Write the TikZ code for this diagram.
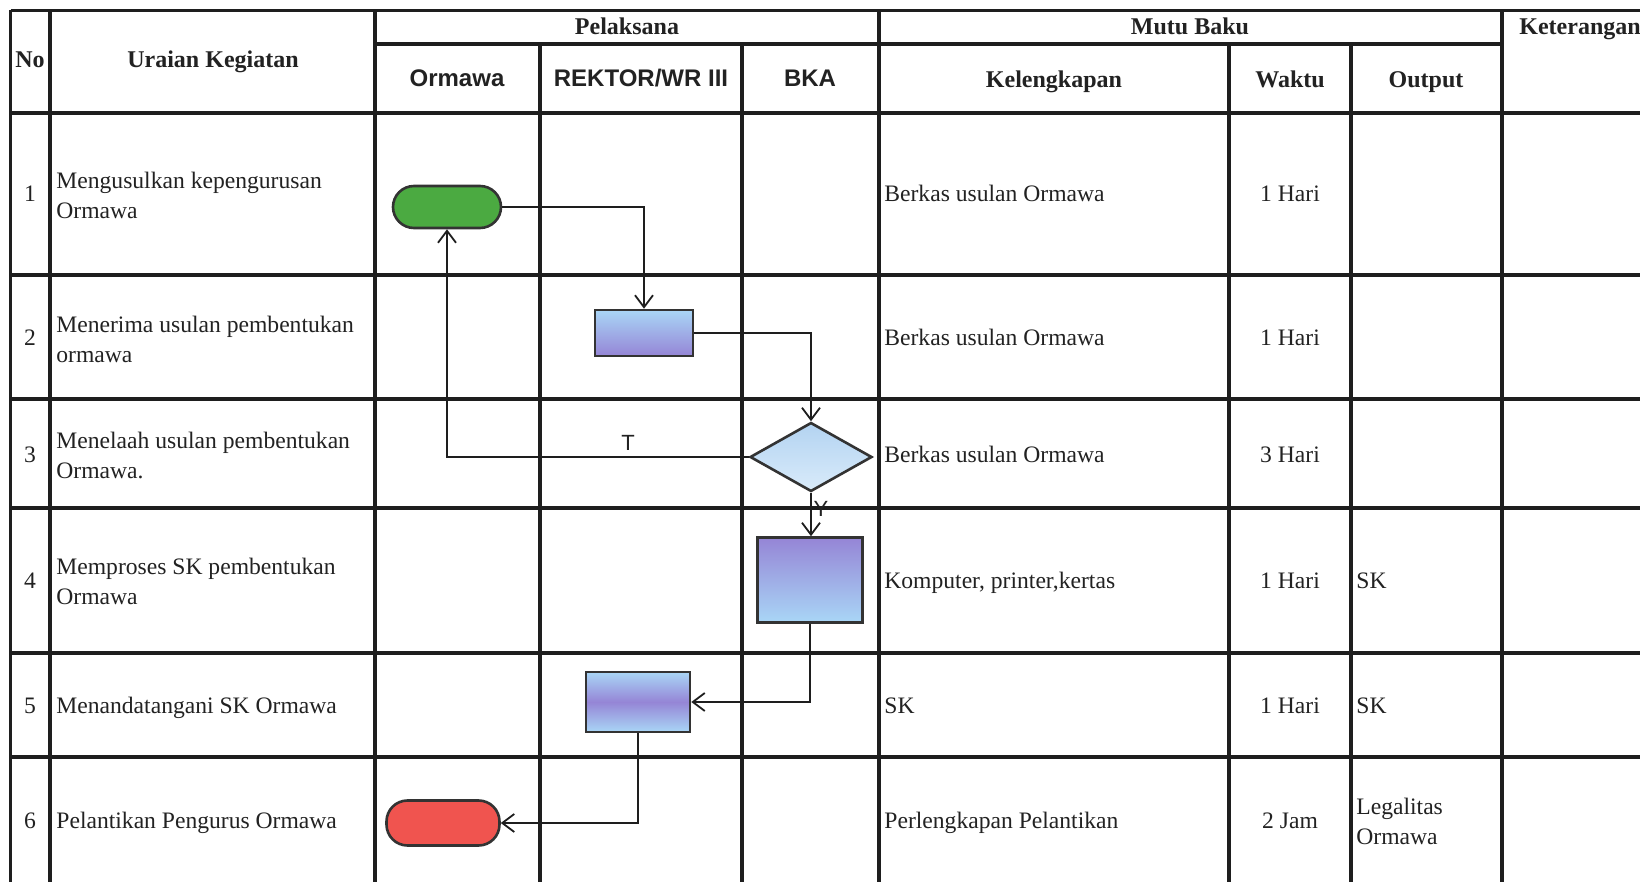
\documentclass[tikz,border=0pt]{standalone}
\usepackage{fontspec}
\setmainfont{Liberation Serif}
\newfontfamily\hsans{Liberation Sans}
\usetikzlibrary{shapes.geometric,arrows.meta}
\definecolor{ln}{HTML}{1E1E1E}
\definecolor{ink}{HTML}{222222}
\definecolor{bd}{HTML}{333333}
\definecolor{lblue}{HTML}{A9D6F6}
\definecolor{lpurp}{HTML}{9585D6}
\definecolor{dtop}{HTML}{B3D3F1}
\definecolor{dbot}{HTML}{D9EBFA}
\definecolor{gfill}{HTML}{4BAA41}
\definecolor{rfill}{HTML}{F0544F}
\begin{document}
\begin{tikzpicture}[x=0.5pt,y=-0.5pt,
  grid/.style={draw=ln, line width=1.8pt},
  txt/.style={font=\fontsize{11.8}{15}\selectfont, text=ink, inner sep=0pt},
  tb/.style={txt, anchor=base},
  lt/.style={txt, anchor=west, align=left},
  lb/.style={txt, anchor=base west},
  hd/.style={font=\fontsize{12}{15}\selectfont\bfseries, text=ink, inner sep=0pt, anchor=base},
  hs/.style={font=\hsans\fontsize{12}{15}\selectfont\bfseries, text=ink, inner sep=0pt, anchor=base},
  lbl/.style={font=\hsans\fontsize{11}{13}\selectfont, text=ink, inner sep=0pt},
  conn/.style={draw=ln, line width=0.9pt, -{Straight Barb[length=6pt,width=9pt,line width=0.9pt]}},
  shp/.style={draw=bd, line width=1.3pt, inner sep=0pt},
  term/.style={shp, rounded corners=10.5pt},
  proc/.style={shp, rectangle}
]
\useasboundingbox (0,0) rectangle (1640,882);
\clip (0,0) rectangle (1640,882);
\fill[white] (0,0) rectangle (1640,882);

% grid lines
\foreach \y in {10.5,113,275,399,508,653,757}
  \draw[grid] (10.5,\y) -- (1640,\y);
\draw[grid] (375,44) -- (1502,44);
\foreach \x in {10.5,50,375,879,1502}
  \draw[grid] (\x,10.5) -- (\x,882);
\foreach \x in {540,742,1229,1351}
  \draw[grid] (\x,44) -- (\x,882);

% headers
\node[hd] (hno) at (30,68) {No};
\node[hd] (hur) at (213,68) {Uraian Kegiatan};
\node[hd] (hpel) at (627,35) {Pelaksana};
\node[hd] (hmb) at (1190,35) {Mutu Baku};
\node[hd, anchor=base west] (hket) at (1519,35) {Keterangan};
\node[hs] (horm) at (457,87) {Ormawa};
\node[hs] (hrek) at (641,87) {REKTOR/WR III};
\node[hs] (hbka) at (810,87) {BKA};
\node[hd] (hkel) at (1054,88) {Kelengkapan};
\node[hd] (hwak) at (1290,88) {Waktu};
\node[hd] (hout) at (1426,88) {Output};

% row numbers
\node[tb] (n1) at (30,202) {1};
\node[tb] (n2) at (30,346) {2};
\node[tb] (n3) at (30,462) {3};
\node[tb] (n4) at (30,588) {4};
\node[tb] (n5) at (30,713) {5};
\node[tb] (n6) at (30,828) {6};

% uraian
\node[lt] (u1) at (56,195) {Mengusulkan kepengurusan\\Ormawa};
\node[lt] (u2) at (56,339) {Menerima usulan pembentukan\\ormawa};
\node[lt] (u3) at (56,455) {Menelaah usulan pembentukan\\Ormawa.};
\node[lt] (u4) at (56,581) {Memproses SK pembentukan\\Ormawa};
\node[lb] (u5) at (56,713) {Menandatangani SK Ormawa};
\node[lb] (u6) at (56,828) {Pelantikan Pengurus Ormawa};

% kelengkapan
\node[lb] (k1) at (884,202) {Berkas usulan Ormawa};
\node[lb] (k2) at (884,346) {Berkas usulan Ormawa};
\node[lb] (k3) at (884,462) {Berkas usulan Ormawa};
\node[lb] (k4) at (884,588) {Komputer, printer,kertas};
\node[lb] (k5) at (884,713) {SK};
\node[lb] (k6) at (884,828) {Perlengkapan Pelantikan};

% waktu
\node[tb] (w1) at (1290,202) {1 Hari};
\node[tb] (w2) at (1290,346) {1 Hari};
\node[tb] (w3) at (1290,462) {3 Hari};
\node[tb] (w4) at (1290,588) {1 Hari};
\node[tb] (w5) at (1290,713) {1 Hari};
\node[tb] (w6) at (1290,828) {2 Jam};

% output
\node[lb] (o4) at (1356,588) {SK};
\node[lb] (o5) at (1356,713) {SK};
\node[lt] (o6) at (1356,821) {Legalitas\\Ormawa};

% flow shapes
\node[term, fill=gfill, minimum width=54pt, minimum height=21pt] (g) at (447,207) {};
\node[proc, top color=lblue, bottom color=lpurp, minimum width=49pt, minimum height=23pt] (r1) at (644,333) {};
\node[shp, diamond, top color=dtop, bottom color=dbot, aspect=1.77, minimum width=61pt, minimum height=34.5pt] (d) at (811,457) {};
\node[proc, top color=lpurp, bottom color=lblue, minimum width=52.5pt, minimum height=42.5pt] (r2) at (810,580) {};
\node[proc, top color=lblue, bottom color=lblue, middle color=lpurp, minimum width=52pt, minimum height=30pt] (r3) at (638,702) {};
\node[term, fill=rfill, minimum width=56.5pt, minimum height=22.5pt] (rd) at (443,823) {};

% connectors
\draw[conn] (g.east) -| (r1.north);
\draw[conn] (r1.east) -| (d.north);
\draw[conn] (d.west) -| (g.south);
\draw[conn] (d.south) -- (d.south |- r2.north);
\draw[conn] (r2.south) |- (r3.east);
\draw[conn] (r3.south) |- (rd.east);

\node[lbl] (lt) at (628,443) {T};
\node[lbl] (ly) at (821,509) {Y};
\end{tikzpicture}
\end{document}
